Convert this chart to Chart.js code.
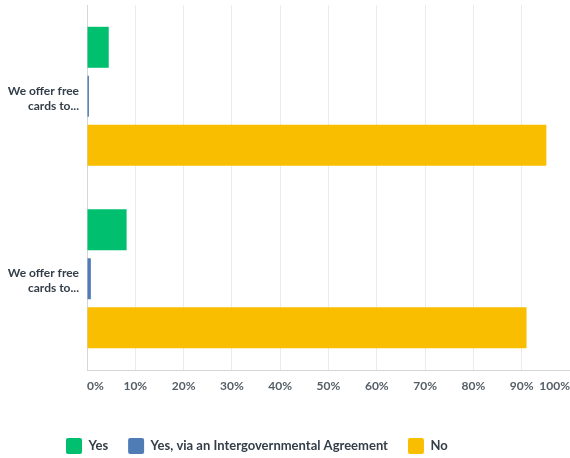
<!DOCTYPE html>
<html>
<head>
<meta charset="utf-8">
<script src="https://cdn.jsdelivr.net/npm/chart.js@4"></script>
<style>
  html, body { margin: 0; padding: 0; background: #fff; }
  #wrap { width: 570px; height: 458px; position: relative; }
</style>
</head>
<body>
<div id="wrap"><canvas id="chart"></canvas></div>
<script>
var categories = [['We offer free', 'cards to...'], ['We offer free', 'cards to...']];
var seriesNames = ['Yes', 'Yes, via an Intergovernmental Agreement', 'No'];
var yesValues = [4.5, 8.2];
var igaValues = [0.4, 0.8];
var noValues = [95.1, 91.0];
var xTicks = [0, 10, 20, 30, 40, 50, 60, 70, 80, 90, 100];

var colors = ['#00bf6f', '#507cb6', '#f9be00'];
var textColor = '#333e48';
var font = "Lato, 'Open Sans', sans-serif";

// nudge the legend row right so it starts under the labels
var legendShift = {
    id: 'legendShift',
    afterLayout: function (chart) {
        if (chart.legend) chart.legend.left = 46;
    }
};

var ctx = document.getElementById('chart').getContext('2d');
var myChart = new Chart(ctx, {
    type: 'bar',
    data: {
        labels: categories,
        datasets: [yesValues, igaValues, noValues].map(function (vals, i) {
            return {
                label: seriesNames[i],
                data: vals,
                backgroundColor: colors[i],
                borderWidth: 0,
                barPercentage: 0.837,
                categoryPercentage: 0.805
            };
        })
    },
    plugins: [legendShift],
    options: {
        indexAxis: 'y',
        responsive: true,
        maintainAspectRatio: false,
        animation: false,
        layout: { padding: { top: 5, left: 0, right: 0, bottom: 0 } },
        scales: {
            x: {
                min: 0,
                max: 100,
                afterBuildTicks: function (scale) {
                    scale.ticks = xTicks.map(function (v) { return { value: v }; });
                },
                afterFit: function (scale) {
                    scale.height = 48;
                    scale.paddingLeft = 0;
                    scale.paddingRight = 0;
                },
                grid: { color: '#ebebeb', lineWidth: 1, drawTicks: false },
                border: { color: '#d6d6d6', width: 1 },
                ticks: {
                    align: 'inner',
                    padding: 9,
                    color: '#545e66',
                    font: { family: font, size: 12, weight: '700' },
                    callback: function (v) { return v + '%'; }
                }
            },
            y: {
                afterFit: function (scale) {
                    scale.width = 87;
                    scale.paddingTop = 0;
                    scale.paddingBottom = 0;
                },
                grid: { display: false },
                border: { color: '#d6d6d6', width: 1 },
                ticks: {
                    padding: 0,
                    labelOffset: 2,
                    color: textColor,
                    font: { family: font, size: 12, weight: '700', lineHeight: 1.25 }
                }
            }
        },
        plugins: {
            tooltip: { enabled: false },
            legend: {
                position: 'bottom',
                align: 'start',
                maxHeight: 40,
                labels: {
                    boxWidth: 16,
                    boxHeight: 16,
                    padding: 20,
                    useBorderRadius: true,
                    borderRadius: 2,
                    color: textColor,
                    font: { family: font, size: 13, weight: '700' }
                }
            }
        }
    }
});
</script>
</body>
</html>
